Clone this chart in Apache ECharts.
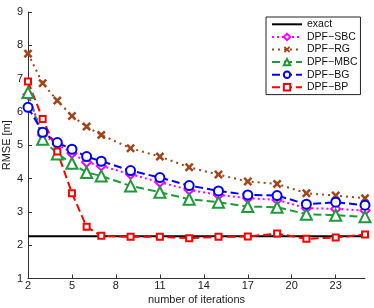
<!DOCTYPE html>
<html><head><meta charset="utf-8">
<script src="https://cdn.jsdelivr.net/npm/echarts@6/dist/echarts.min.js"></script>
<style>html,body{margin:0;padding:0;background:#fff}#c{width:374px;height:308px}</style>
</head><body><div id="c"></div>
<script>
const iterations = [2,3,4,5,6,7,9,11,13,15,17,19,21,23,25];
const exactX = [2,25];
const exactVal = [2.27,2.27];
const sbc = [6.52,5.31,5.04,4.76,4.49,4.38,4.13,3.89,3.66,3.51,3.41,3.36,3.11,3.09,3.04];
const rg  = [7.75,6.86,6.34,5.88,5.56,5.31,4.91,4.66,4.34,4.12,3.91,3.84,3.56,3.49,3.41];
const mbc = [6.58,5.18,4.74,4.46,4.18,4.08,3.78,3.59,3.38,3.29,3.16,3.14,2.93,2.90,2.85];
const bg  = [6.14,5.39,5.08,4.88,4.66,4.52,4.24,4.03,3.79,3.63,3.51,3.49,3.23,3.29,3.20];
const bp  = [6.91,5.79,4.81,3.56,2.55,2.28,2.25,2.25,2.21,2.25,2.26,2.35,2.19,2.23,2.32];
const xTicks = [2,5,8,11,14,17,20,23];
const yTicks = [1,2,3,4,5,6,7,8,9];

const pair = (xs, ys) => xs.map((x,i)=>[x, ys[i]]);
const font = 'Liberation Sans, Arial, sans-serif';
const xPath = 'path://M0,2L2,0L5,3L8,0L10,2L7,5L10,8L8,10L5,7L2,10L0,8L3,5Z';

const chart = echarts.init(document.getElementById('c'), null, {renderer:'canvas'});
chart.setOption({
  animation:false,
  backgroundColor:'#fff',
  grid:{left:28,right:9,top:12,bottom:29.5, outerBoundsMode:'none', containLabel:false},
  legend:{
    orient:'vertical', left:266, top:17,
    backgroundColor:'#fff', borderColor:'#222', borderWidth:1,
    padding:[1,3,1,5], itemWidth:30, itemHeight:8, itemGap:0,
    textStyle:{fontFamily:font, fontSize:10.5, color:'#111', lineHeight:12.6, padding:[0,0,0,0]},
    data:[{name:'exact', itemStyle:{opacity:0}},'DPF\u2212SBC','DPF\u2212RG','DPF\u2212MBC','DPF\u2212BG','DPF\u2212BP']
  },
  xAxis:{
    type:'value', min:2, max:25,
    name:'number of iterations', nameLocation:'middle', nameGap:16, nameMoveOverlap:false,
    nameTextStyle:{fontFamily:font, fontSize:11, color:'#222'},
    axisLine:{lineStyle:{color:'#333', width:1}},
    axisTick:{inside:true, length:4, customValues:xTicks, lineStyle:{color:'#333'}},
    axisLabel:{customValues:xTicks, fontFamily:font, fontSize:11, color:'#222', margin:2},
    splitLine:{show:false}
  },
  yAxis:{
    type:'value', min:1, max:9, interval:1,
    name:'RMSE [m]', nameLocation:'middle', nameGap:16, nameMoveOverlap:false,
    nameTextStyle:{fontFamily:font, fontSize:11, color:'#222'},
    axisLine:{show:true, lineStyle:{color:'#333', width:1}},
    axisTick:{show:true, inside:true, length:4, lineStyle:{color:'#333'}},
    axisLabel:{fontFamily:font, fontSize:11, color:'#222', margin:5,
      formatter:v=>yTicks.includes(v)?String(v):''},
    splitLine:{show:false}
  },
  series:[
    {name:'exact', type:'line', data:pair(exactX, exactVal), symbol:'none',
     lineStyle:{color:'#000', width:2}, itemStyle:{color:'#000'}},
    {name:'DPF\u2212SBC', type:'line', data:pair(iterations, sbc), symbol:'emptyDiamond', symbolSize:9,
     lineStyle:{color:'#ff00ff', width:2, type:[2,3]}, itemStyle:{color:'#ff00ff', borderWidth:2}},
    {name:'DPF\u2212RG', type:'line', data:pair(iterations, rg), symbol:xPath, symbolSize:9,
     lineStyle:{color:'#a0461a', width:2, type:[2,4]}, itemStyle:{color:'#a0461a'}},
    {name:'DPF\u2212MBC', type:'line', data:pair(iterations, mbc), symbol:'emptyTriangle', symbolSize:11,
     lineStyle:{color:'#1f9a3a', width:2, type:[8,4]}, itemStyle:{color:'#1f9a3a', borderWidth:2}},
    {name:'DPF\u2212BG', type:'line', data:pair(iterations, bg), symbol:'emptyCircle', symbolSize:9,
     lineStyle:{color:'#0000ff', width:2, type:[8,4]}, itemStyle:{color:'#0000ff', borderWidth:2}},
    {name:'DPF\u2212BP', type:'line', data:pair(iterations, bp), symbol:'emptyRect', symbolSize:6,
     lineStyle:{color:'#ff0000', width:2, type:[8,4]}, itemStyle:{color:'#ff0000', borderWidth:2}}
  ]
});
</script></body></html>
